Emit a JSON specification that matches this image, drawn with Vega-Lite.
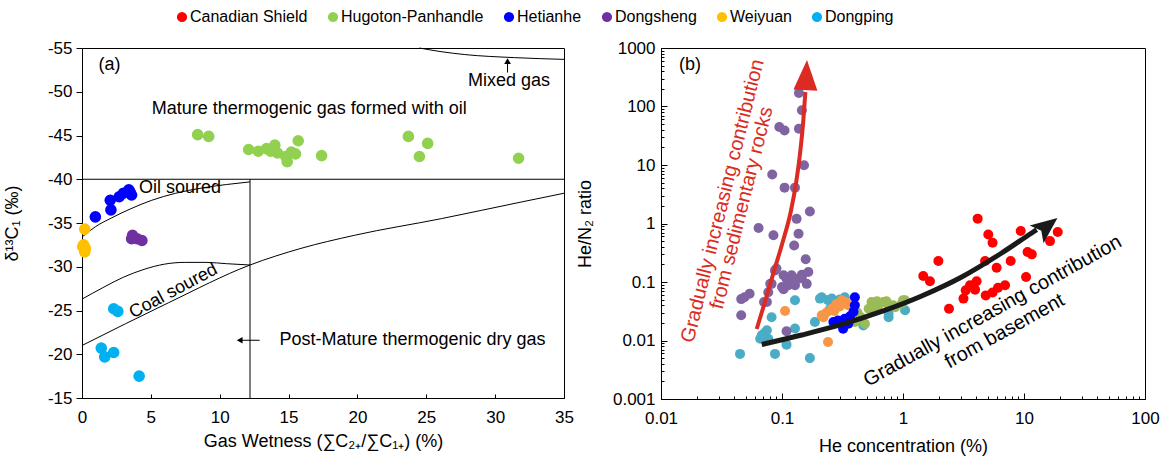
{
  "$schema": "https://vega.github.io/schema/vega-lite/v6.json",
  "padding": {"left": 2, "top": 8, "right": 5, "bottom": 5},
  "background": "white",
  "config": {
    "view": {"stroke": "#000", "strokeWidth": 1},
    "axis": {"labelFont": "Liberation Sans", "titleFont": "Liberation Sans", "labelFontSize": 17, "titleFontSize": 18, "titleFontWeight": "normal", "labelColor": "#000", "titleColor": "#000", "domainColor": "#000", "tickColor": "#000", "grid": false, "labelFlush": false, "labelOverlap": false, "labelBound": false},
    "text": {"font": "Liberation Sans", "fontSize": 18},
    "legend": {"labelFont": "Liberation Sans"}
  },
  "spacing": 97,
  "bounds": "flush",
  "resolve": {"scale": {"color": "independent"}},
  "datasets": {
    "a_pts": [
      {"site": "Hugoton-Panhandle", "x": 8.4, "y": -45.1},
      {"site": "Hugoton-Panhandle", "x": 9.2, "y": -44.9},
      {"site": "Hugoton-Panhandle", "x": 12.1, "y": -43.4},
      {"site": "Hugoton-Panhandle", "x": 12.8, "y": -43.2},
      {"site": "Hugoton-Panhandle", "x": 13.4, "y": -43.5},
      {"site": "Hugoton-Panhandle", "x": 14.0, "y": -43.9},
      {"site": "Hugoton-Panhandle", "x": 13.7, "y": -43.2},
      {"site": "Hugoton-Panhandle", "x": 14.2, "y": -43.0},
      {"site": "Hugoton-Panhandle", "x": 14.8, "y": -42.6},
      {"site": "Hugoton-Panhandle", "x": 14.9, "y": -42.0},
      {"site": "Hugoton-Panhandle", "x": 15.2, "y": -43.1},
      {"site": "Hugoton-Panhandle", "x": 15.5, "y": -42.9},
      {"site": "Hugoton-Panhandle", "x": 15.7, "y": -44.4},
      {"site": "Hugoton-Panhandle", "x": 17.4, "y": -42.7},
      {"site": "Hugoton-Panhandle", "x": 23.7, "y": -44.9},
      {"site": "Hugoton-Panhandle", "x": 25.1, "y": -44.1},
      {"site": "Hugoton-Panhandle", "x": 24.5, "y": -42.6},
      {"site": "Hugoton-Panhandle", "x": 31.7, "y": -42.4},
      {"site": "Hetianhe", "x": 0.97, "y": -35.7},
      {"site": "Hetianhe", "x": 2.1, "y": -36.5},
      {"site": "Hetianhe", "x": 2.05, "y": -37.6},
      {"site": "Hetianhe", "x": 2.7, "y": -38.0},
      {"site": "Hetianhe", "x": 3.0, "y": -38.4},
      {"site": "Hetianhe", "x": 3.4, "y": -38.8},
      {"site": "Hetianhe", "x": 3.6, "y": -38.2},
      {"site": "Hetianhe", "x": 3.5, "y": -38.5},
      {"site": "Weiyuan", "x": 0.2, "y": -34.3},
      {"site": "Weiyuan", "x": 0.12, "y": -32.5},
      {"site": "Weiyuan", "x": 0.24, "y": -32.1},
      {"site": "Weiyuan", "x": 0.2, "y": -31.7},
      {"site": "Weiyuan", "x": 0.05, "y": -32.3},
      {"site": "Dongsheng", "x": 3.67, "y": -33.6},
      {"site": "Dongsheng", "x": 4.0, "y": -33.2},
      {"site": "Dongsheng", "x": 4.35, "y": -33.0},
      {"site": "Dongsheng", "x": 3.6, "y": -33.2},
      {"site": "Dongping", "x": 2.3, "y": -25.2},
      {"site": "Dongping", "x": 2.6, "y": -24.9},
      {"site": "Dongping", "x": 1.4, "y": -20.7},
      {"site": "Dongping", "x": 1.65, "y": -19.7},
      {"site": "Dongping", "x": 2.3, "y": -20.2},
      {"site": "Dongping", "x": 4.15, "y": -17.5}
    ],
    "a_lines": [
      {"id": "oil", "i": 0, "x": 0, "y": -33.4},
      {"id": "oil", "i": 1, "x": 1, "y": -34.6},
      {"id": "oil", "i": 2, "x": 2.17, "y": -35.6},
      {"id": "oil", "i": 3, "x": 3.5, "y": -36.6},
      {"id": "oil", "i": 4, "x": 5.07, "y": -37.6},
      {"id": "oil", "i": 5, "x": 6.8, "y": -38.4},
      {"id": "oil", "i": 6, "x": 8.7, "y": -39.0},
      {"id": "oil", "i": 7, "x": 10.5, "y": -39.4},
      {"id": "oil", "i": 8, "x": 12.2, "y": -39.7},
      {"id": "coalup", "i": 0, "x": 0, "y": -26.3},
      {"id": "coalup", "i": 1, "x": 1.5, "y": -27.6},
      {"id": "coalup", "i": 2, "x": 3, "y": -28.8},
      {"id": "coalup", "i": 3, "x": 4.5, "y": -29.7},
      {"id": "coalup", "i": 4, "x": 6, "y": -30.3},
      {"id": "coalup", "i": 5, "x": 7.5, "y": -30.5},
      {"id": "coalup", "i": 6, "x": 9, "y": -30.5},
      {"id": "coalup", "i": 7, "x": 10.5, "y": -30.35},
      {"id": "coalup", "i": 8, "x": 12.2, "y": -30.2},
      {"id": "coallow", "i": 0, "x": 0, "y": -21.0},
      {"id": "coallow", "i": 1, "x": 6.3, "y": -25.9},
      {"id": "coallow", "i": 2, "x": 12.2, "y": -30.2},
      {"id": "coallow", "i": 3, "x": 15.9, "y": -32.1},
      {"id": "coallow", "i": 4, "x": 19.8, "y": -33.6},
      {"id": "coallow", "i": 5, "x": 26.1, "y": -35.5},
      {"id": "coallow", "i": 6, "x": 31.9, "y": -37.4},
      {"id": "coallow", "i": 7, "x": 35, "y": -38.4},
      {"id": "mixed", "i": 0, "x": 24.5, "y": -55},
      {"id": "mixed", "i": 1, "x": 26, "y": -54.6},
      {"id": "mixed", "i": 2, "x": 27.8, "y": -54.25},
      {"id": "mixed", "i": 3, "x": 31.4, "y": -53.9},
      {"id": "mixed", "i": 4, "x": 35, "y": -53.7}
    ],
    "a_rules": [
      {"x": 0, "y": -40, "x2": 35, "y2": -40},
      {"x": 12.2, "y": -40, "x2": 12.2, "y2": -15},
      {"x": 30.9, "y": -52.2, "x2": 30.9, "y2": -53.4},
      {"x": 12.9, "y": -21.6, "x2": 11.6, "y2": -21.6}
    ],
    "a_heads": [
      {"id": "mixed", "x": 30.9, "y": -53.5},
      {"id": "post", "x": 11.45, "y": -21.6}
    ],
    "a_text": [
      {"label": "(a)", "x": 2.0, "y": -53.1},
      {"label": "Mature thermogenic gas formed with oil", "x": 16.5, "y": -48.0},
      {"label": "Mixed gas", "x": 31.0, "y": -51.2},
      {"label": "Oil soured", "x": 7.12, "y": -38.96},
      {"label": "Post-Mature thermogenic dry gas", "x": 24.0, "y": -21.6}
    ],
    "a_text_coal": [
      {"label": "Coal soured", "x": 6.64, "y": -27.2}
    ],
    "b_pts": [
      {"site": "Dongping", "x": 0.045, "y": 0.0059},
      {"site": "Dongping", "x": 0.0875, "y": 0.0059},
      {"site": "Dongping", "x": 0.17, "y": 0.005},
      {"site": "Dongping", "x": 0.109, "y": 0.0085},
      {"site": "Dongping", "x": 0.066, "y": 0.0107},
      {"site": "Dongping", "x": 0.068, "y": 0.0123},
      {"site": "Dongping", "x": 0.075, "y": 0.015},
      {"site": "Dongping", "x": 0.077, "y": 0.0107},
      {"site": "Dongping", "x": 0.072, "y": 0.0135},
      {"site": "Dongping", "x": 0.082, "y": 0.025},
      {"site": "Dongping", "x": 0.128, "y": 0.0486},
      {"site": "Dongping", "x": 0.128, "y": 0.016},
      {"site": "Dongping", "x": 0.213, "y": 0.055},
      {"site": "Dongping", "x": 0.206, "y": 0.052},
      {"site": "Dongping", "x": 0.187, "y": 0.0207},
      {"site": "Dongping", "x": 0.24, "y": 0.049},
      {"site": "Dongping", "x": 0.258, "y": 0.052},
      {"site": "Dongping", "x": 0.33, "y": 0.055},
      {"site": "Dongping", "x": 0.30, "y": 0.05},
      {"site": "Dongping", "x": 0.275, "y": 0.035},
      {"site": "Dongping", "x": 0.25, "y": 0.035},
      {"site": "Dongping", "x": 0.55, "y": 0.0374},
      {"site": "Dongping", "x": 0.47, "y": 0.018},
      {"site": "Dongping", "x": 0.76, "y": 0.029},
      {"site": "Dongping", "x": 1.04, "y": 0.0328},
      {"site": "Dongping", "x": 0.57, "y": 0.036},
      {"site": "Dongping", "x": 0.76, "y": 0.025},
      {"site": "Hugoton-Panhandle", "x": 0.40, "y": 0.0207},
      {"site": "Hugoton-Panhandle", "x": 0.485, "y": 0.0194},
      {"site": "Hugoton-Panhandle", "x": 0.45, "y": 0.025},
      {"site": "Hugoton-Panhandle", "x": 0.42, "y": 0.03},
      {"site": "Hugoton-Panhandle", "x": 0.55, "y": 0.0455},
      {"site": "Hugoton-Panhandle", "x": 0.626, "y": 0.040},
      {"site": "Hugoton-Panhandle", "x": 0.69, "y": 0.0455},
      {"site": "Hugoton-Panhandle", "x": 0.76, "y": 0.040},
      {"site": "Hugoton-Panhandle", "x": 0.86, "y": 0.037},
      {"site": "Hugoton-Panhandle", "x": 0.975, "y": 0.0426},
      {"site": "Hugoton-Panhandle", "x": 1.04, "y": 0.0486},
      {"site": "Hugoton-Panhandle", "x": 0.59, "y": 0.0328},
      {"site": "Hugoton-Panhandle", "x": 0.52, "y": 0.035},
      {"site": "Hugoton-Panhandle", "x": 0.61, "y": 0.047},
      {"site": "Hugoton-Panhandle", "x": 0.73, "y": 0.047},
      {"site": "Hugoton-Panhandle", "x": 0.83, "y": 0.040},
      {"site": "Hugoton-Panhandle", "x": 1.0, "y": 0.0486},
      {"site": "Weiyuan", "x": 0.106, "y": 0.032},
      {"site": "Weiyuan", "x": 0.24, "y": 0.0094},
      {"site": "Weiyuan", "x": 0.213, "y": 0.027},
      {"site": "Weiyuan", "x": 0.233, "y": 0.030},
      {"site": "Weiyuan", "x": 0.258, "y": 0.035},
      {"site": "Weiyuan", "x": 0.283, "y": 0.0426},
      {"site": "Weiyuan", "x": 0.311, "y": 0.0486},
      {"site": "Weiyuan", "x": 0.336, "y": 0.0455},
      {"site": "Weiyuan", "x": 0.353, "y": 0.040},
      {"site": "Weiyuan", "x": 0.30, "y": 0.038},
      {"site": "Weiyuan", "x": 0.27, "y": 0.032},
      {"site": "Weiyuan", "x": 0.22, "y": 0.025},
      {"site": "Dongsheng", "x": 0.138, "y": 170},
      {"site": "Dongsheng", "x": 0.146, "y": 86},
      {"site": "Dongsheng", "x": 0.095, "y": 44.7},
      {"site": "Dongsheng", "x": 0.105, "y": 39},
      {"site": "Dongsheng", "x": 0.138, "y": 41.7},
      {"site": "Dongsheng", "x": 0.152, "y": 9.9},
      {"site": "Dongsheng", "x": 0.083, "y": 6.9},
      {"site": "Dongsheng", "x": 0.105, "y": 4.1},
      {"site": "Dongsheng", "x": 0.128, "y": 4.1},
      {"site": "Dongsheng", "x": 0.170, "y": 1.6},
      {"site": "Dongsheng", "x": 0.132, "y": 1.2},
      {"site": "Dongsheng", "x": 0.064, "y": 0.84},
      {"site": "Dongsheng", "x": 0.137, "y": 0.67},
      {"site": "Dongsheng", "x": 0.085, "y": 0.63},
      {"site": "Dongsheng", "x": 0.126, "y": 0.42},
      {"site": "Dongsheng", "x": 0.157, "y": 0.244},
      {"site": "Dongsheng", "x": 0.090, "y": 0.17},
      {"site": "Dongsheng", "x": 0.0875, "y": 0.158},
      {"site": "Dongsheng", "x": 0.103, "y": 0.13},
      {"site": "Dongsheng", "x": 0.165, "y": 0.148},
      {"site": "Dongsheng", "x": 0.146, "y": 0.133},
      {"site": "Dongsheng", "x": 0.080, "y": 0.093},
      {"site": "Dongsheng", "x": 0.1, "y": 0.082},
      {"site": "Dongsheng", "x": 0.12, "y": 0.1},
      {"site": "Dongsheng", "x": 0.137, "y": 0.114},
      {"site": "Dongsheng", "x": 0.16, "y": 0.093},
      {"site": "Dongsheng", "x": 0.103, "y": 0.075},
      {"site": "Dongsheng", "x": 0.109, "y": 0.114},
      {"site": "Dongsheng", "x": 0.12, "y": 0.13},
      {"site": "Dongsheng", "x": 0.146, "y": 0.122},
      {"site": "Dongsheng", "x": 0.113, "y": 0.088},
      {"site": "Dongsheng", "x": 0.128, "y": 0.088},
      {"site": "Dongsheng", "x": 0.082, "y": 0.093},
      {"site": "Dongsheng", "x": 0.077, "y": 0.067},
      {"site": "Dongsheng", "x": 0.071, "y": 0.0455},
      {"site": "Dongsheng", "x": 0.049, "y": 0.055},
      {"site": "Dongsheng", "x": 0.054, "y": 0.063},
      {"site": "Dongsheng", "x": 0.046, "y": 0.027},
      {"site": "Dongsheng", "x": 0.046, "y": 0.051},
      {"site": "Dongsheng", "x": 0.075, "y": 0.0455},
      {"site": "Dongsheng", "x": 0.109, "y": 0.0144},
      {"site": "Hetianhe", "x": 0.40, "y": 0.055},
      {"site": "Hetianhe", "x": 0.40, "y": 0.040},
      {"site": "Hetianhe", "x": 0.39, "y": 0.031},
      {"site": "Hetianhe", "x": 0.365, "y": 0.026},
      {"site": "Hetianhe", "x": 0.33, "y": 0.0236},
      {"site": "Hetianhe", "x": 0.29, "y": 0.022},
      {"site": "Hetianhe", "x": 0.266, "y": 0.0207},
      {"site": "Hetianhe", "x": 0.32, "y": 0.0159},
      {"site": "Hetianhe", "x": 0.353, "y": 0.0194},
      {"site": "Hetianhe", "x": 0.31, "y": 0.02},
      {"site": "Canadian Shield", "x": 4.14, "y": 1.21},
      {"site": "Canadian Shield", "x": 5.07, "y": 0.65},
      {"site": "Canadian Shield", "x": 5.5, "y": 0.47},
      {"site": "Canadian Shield", "x": 9.4, "y": 0.745},
      {"site": "Canadian Shield", "x": 19, "y": 0.716},
      {"site": "Canadian Shield", "x": 16.4, "y": 0.50},
      {"site": "Canadian Shield", "x": 10.7, "y": 0.326},
      {"site": "Canadian Shield", "x": 11.6, "y": 0.297},
      {"site": "Canadian Shield", "x": 1.96, "y": 0.229},
      {"site": "Canadian Shield", "x": 4.77, "y": 0.229},
      {"site": "Canadian Shield", "x": 7.76, "y": 0.229},
      {"site": "Canadian Shield", "x": 5.94, "y": 0.175},
      {"site": "Canadian Shield", "x": 1.47, "y": 0.127},
      {"site": "Canadian Shield", "x": 1.67, "y": 0.103},
      {"site": "Canadian Shield", "x": 10.4, "y": 0.122},
      {"site": "Canadian Shield", "x": 4.06, "y": 0.103},
      {"site": "Canadian Shield", "x": 3.58, "y": 0.088},
      {"site": "Canadian Shield", "x": 3.3, "y": 0.072},
      {"site": "Canadian Shield", "x": 3.94, "y": 0.074},
      {"site": "Canadian Shield", "x": 3.16, "y": 0.052},
      {"site": "Canadian Shield", "x": 4.83, "y": 0.059},
      {"site": "Canadian Shield", "x": 5.5, "y": 0.066},
      {"site": "Canadian Shield", "x": 6.1, "y": 0.080},
      {"site": "Canadian Shield", "x": 6.97, "y": 0.088},
      {"site": "Canadian Shield", "x": 2.4, "y": 0.035}
    ],
    "b_red": [
      {"i": 0, "x": 0.0618, "y": 0.0157},
      {"i": 1, "x": 0.0722, "y": 0.0455},
      {"i": 2, "x": 0.0854, "y": 0.148},
      {"i": 3, "x": 0.1013, "y": 0.483},
      {"i": 4, "x": 0.118, "y": 1.574},
      {"i": 5, "x": 0.131, "y": 5.12},
      {"i": 6, "x": 0.1414, "y": 16.7},
      {"i": 7, "x": 0.1497, "y": 54.3},
      {"i": 8, "x": 0.1561, "y": 177}
    ],
    "b_black": [
      {"i": 0, "x": 0.068, "y": 0.00855},
      {"i": 1, "x": 0.1455, "y": 0.01241},
      {"i": 2, "x": 0.3113, "y": 0.01879},
      {"i": 3, "x": 0.6668, "y": 0.03134},
      {"i": 4, "x": 1.427, "y": 0.05768},
      {"i": 5, "x": 3.056, "y": 0.1217},
      {"i": 6, "x": 6.543, "y": 0.3133},
      {"i": 7, "x": 11.58, "y": 0.6887},
      {"i": 8, "x": 12.73, "y": 0.783}
    ],
    "b_redhead": [{"x": 0.1585, "y": 345}],
    "b_blackhead": [{"x": 15.5, "y": 0.9}],
    "b_label": [{"label": "(b)", "x": 0.0174, "y": 506}],
    "b_redtext": [
      {"label": "Gradually increasing contribution", "x": 0.0324, "y": 2.43},
      {"label": "from sedimentary rocks", "x": 0.0465, "y": 1.84}
    ],
    "b_blacktext": [
      {"label": "Gradually increasing contribution", "x": 5.5, "y": 0.0319},
      {"label": "from basement", "x": 6.92, "y": 0.0145}
    ]
  },
  "hconcat": [
    {
      "width": 482,
      "height": 350,
      "encoding": {
        "x": {"field": "x", "type": "quantitative", "scale": {"domain": [0, 35], "nice": false, "zero": false},
          "axis": {"title": "Gas Wetness (∑C₂₊/∑C₁₊) (%)", "values": [0, 5, 10, 15, 20, 25, 30, 35], "labelExpr": "''+datum.value", "tickSize": -4, "labelPadding": 15, "titlePadding": 7}},
        "y": {"field": "y", "type": "quantitative", "scale": {"domain": [-55, -15], "nice": false, "zero": false, "reverse": true},
          "axis": {"title": "δ¹³C₁ (‰)", "values": [-55, -50, -45, -40, -35, -30, -25, -20, -15], "labelExpr": "''+datum.value", "tickSize": 6, "labelPadding": 4, "titlePadding": 26}}
      },
      "layer": [
        {"data": {"name": "a_rules"}, "mark": {"type": "rule", "color": "#000", "strokeWidth": 1},
          "encoding": {"x2": {"field": "x2"}, "y2": {"field": "y2"}}},
        {"data": {"name": "a_lines"}, "mark": {"type": "line", "color": "#000", "strokeWidth": 1, "interpolate": "monotone"},
          "encoding": {"detail": {"field": "id"}, "order": {"field": "i", "type": "quantitative"}}},
        {"data": {"name": "a_heads"}, "transform": [{"filter": "datum.id == 'mixed'"}], "mark": {"type": "point", "shape": "triangle-up", "size": 45, "filled": true, "color": "#000", "opacity": 1}},
        {"data": {"name": "a_heads"}, "transform": [{"filter": "datum.id == 'post'"}], "mark": {"type": "point", "shape": "triangle-left", "size": 45, "filled": true, "color": "#000", "opacity": 1}},
        {"data": {"name": "a_pts"}, "mark": {"type": "circle", "size": 135, "opacity": 1},
          "encoding": {"color": {"field": "site", "type": "nominal",
            "scale": {"domain": ["Canadian Shield", "Hugoton-Panhandle", "Hetianhe", "Dongsheng", "Weiyuan", "Dongping"], "range": ["#ff0000", "#92d050", "#0000ff", "#7030a0", "#ffc000", "#00b0f0"]},
            "legend": {"title": null, "orient": "none", "legendX": 92, "legendY": -39, "direction": "horizontal", "symbolType": "circle", "symbolSize": 105, "labelFontSize": 16, "labelColor": "#000", "labelOffset": 0, "columnPadding": 17, "padding": 0, "labelLimit": 400}}}},
        {"data": {"name": "a_text"}, "mark": {"type": "text", "align": "center", "baseline": "middle", "fontSize": 18, "color": "#000"},
          "encoding": {"text": {"field": "label"}}},
        {"data": {"name": "a_text_coal"}, "mark": {"type": "text", "align": "center", "baseline": "middle", "fontSize": 18, "color": "#000", "angle": -28},
          "encoding": {"text": {"field": "label"}}}
      ]
    },
    {
      "width": 484,
      "height": 351,
      "encoding": {
        "x": {"field": "x", "type": "quantitative", "scale": {"type": "log", "domain": [0.01, 100], "nice": false},
          "axis": {"title": "He concentration (%)",
            "values": [0.01, 0.02, 0.03, 0.04, 0.05, 0.06, 0.07, 0.08, 0.09, 0.1, 0.2, 0.3, 0.4, 0.5, 0.6, 0.7, 0.8, 0.9, 1, 2, 3, 4, 5, 6, 7, 8, 9, 10, 20, 30, 40, 50, 60, 70, 80, 90, 100],
            "labelExpr": "indexof([0.001,0.01,0.1,1,10,100,1000], datum.value) >= 0 ? ''+datum.value : ''",
            "tickSize": {"condition": {"test": "indexof([0.001,0.01,0.1,1,10,100,1000], datum.value) >= 0", "value": -6}, "value": -3},
            "labelPadding": 17, "titlePadding": 8}},
        "y": {"field": "y", "type": "quantitative", "scale": {"type": "log", "domain": [0.001, 1000], "nice": false},
          "axis": {"title": "He/N₂ ratio",
            "values": [0.001, 0.002, 0.003, 0.004, 0.005, 0.006, 0.007, 0.008, 0.009, 0.01, 0.02, 0.03, 0.04, 0.05, 0.06, 0.07, 0.08, 0.09, 0.1, 0.2, 0.3, 0.4, 0.5, 0.6, 0.7, 0.8, 0.9, 1, 2, 3, 4, 5, 6, 7, 8, 9, 10, 20, 30, 40, 50, 60, 70, 80, 90, 100, 200, 300, 400, 500, 600, 700, 800, 900, 1000],
            "labelExpr": "indexof([0.001,0.01,0.1,1,10,100,1000], datum.value) >= 0 ? ''+datum.value : ''",
            "tickSize": {"condition": {"test": "indexof([0.001,0.01,0.1,1,10,100,1000], datum.value) >= 0", "value": -6}, "value": -3},
            "labelPadding": 12, "titlePadding": 18}}
      },
      "layer": [
        {"data": {"name": "b_pts"}, "mark": {"type": "circle", "size": 100, "opacity": 1},
          "encoding": {"color": {"field": "site", "type": "nominal",
            "scale": {"domain": ["Canadian Shield", "Hugoton-Panhandle", "Hetianhe", "Dongsheng", "Weiyuan", "Dongping"], "range": ["#ff0000", "#9bbb59", "#0000ff", "#8064a2", "#f79646", "#4bacc6"]},
            "legend": null}}},
        {"data": {"name": "b_red"}, "mark": {"type": "line", "color": "#dc2b22", "strokeWidth": 4, "interpolate": "monotone"},
          "encoding": {"order": {"field": "i", "type": "quantitative"}}},
        {"data": {"name": "b_black"}, "mark": {"type": "line", "color": "#1a1a1a", "strokeWidth": 5, "interpolate": "monotone"},
          "encoding": {"order": {"field": "i", "type": "quantitative"}}},
        {"data": {"name": "b_redhead"}, "mark": {"type": "point", "shape": "M0,-1L0.8,1L-0.8,1Z", "size": 900, "filled": true, "color": "#dc2b22", "opacity": 1, "angle": 3}},
        {"data": {"name": "b_blackhead"}, "mark": {"type": "point", "shape": "M0,-1L0.85,1L0,0.55L-0.85,1Z", "size": 700, "filled": true, "color": "#1a1a1a", "opacity": 1, "angle": 52}},
        {"data": {"name": "b_label"}, "mark": {"type": "text", "align": "center", "baseline": "middle", "fontSize": 18, "color": "#000"},
          "encoding": {"text": {"field": "label"}}},
        {"data": {"name": "b_redtext"}, "mark": {"type": "text", "align": "center", "baseline": "middle", "fontSize": 20, "color": "#dc2b22", "angle": -76},
          "encoding": {"text": {"field": "label"}}},
        {"data": {"name": "b_blacktext"}, "mark": {"type": "text", "align": "center", "baseline": "middle", "fontSize": 20, "color": "#000", "angle": -29},
          "encoding": {"text": {"field": "label"}}}
      ]
    }
  ]
}
